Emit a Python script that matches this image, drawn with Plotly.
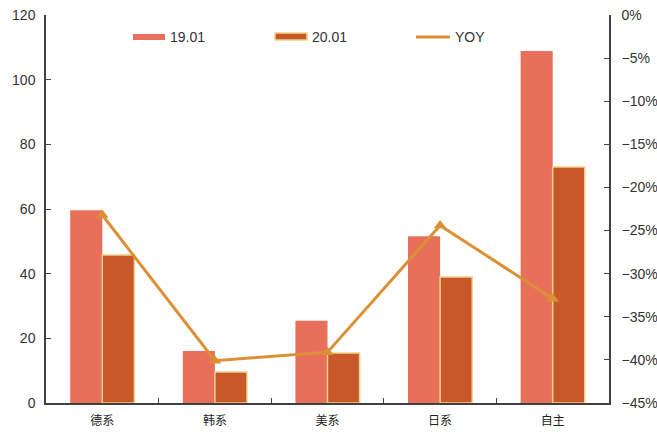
import plotly.graph_objects as go

categories = ["德系", "韩系", "美系", "日系", "自主"]
sales_1901 = [59.6, 16.1, 25.4, 51.6, 108.9]
sales_2001 = [45.8, 9.6, 15.5, 39.0, 73.0]
yoy = [-0.232, -0.401, -0.391, -0.244, -0.329]

left_ticks = [0, 20, 40, 60, 80, 100, 120]
right_ticks = [0, -0.05, -0.10, -0.15, -0.20, -0.25, -0.30, -0.35, -0.40, -0.45]

c1 = "#E8705A"
c2 = "#C8582A"
c2_edge = "#EFD28A"
cl = "#DD8F35"
axis_col = "#404040"
font_col = "#333333"

fig = go.Figure()
fig.add_trace(go.Bar(x=categories, y=sales_1901, name="19.01", marker=dict(color=c1, line=dict(width=0)), showlegend=False))
fig.add_trace(go.Bar(x=categories, y=sales_2001, name="20.01", marker=dict(color=c2, line=dict(color=c2_edge, width=1.5)), showlegend=False))
fig.add_trace(go.Scatter(x=categories, y=yoy, name="YOY", yaxis="y2", mode="lines+markers",
                         line=dict(color=cl, width=3), marker=dict(symbol="triangle-up", size=11, color=cl),
                         showlegend=False))

def px_x(x):
    return (x - 46) / (609 - 46)
def px_y(y):
    return 1 - (y - 15) / (403 - 15)

shapes = [
    dict(type="rect", xref="paper", yref="paper", x0=px_x(133), x1=px_x(165), y0=px_y(40), y1=px_y(34),
         fillcolor=c1, line=dict(width=0)),
    dict(type="rect", xref="paper", yref="paper", x0=px_x(275), x1=px_x(307), y0=px_y(40), y1=px_y(33),
         fillcolor=c2, line=dict(color=c2_edge, width=1.5)),
    dict(type="line", xref="paper", yref="paper", x0=px_x(416), x1=px_x(450), y0=px_y(37), y1=px_y(37),
         line=dict(color=cl, width=3)),
]
lf = dict(size=14, color=font_col, family="Liberation Sans, Arial")
annotations = [
    dict(xref="paper", yref="paper", x=px_x(168), y=px_y(37), text="19.01", showarrow=False, xanchor="left", yanchor="middle", font=lf),
    dict(xref="paper", yref="paper", x=px_x(310), y=px_y(37), text="20.01", showarrow=False, xanchor="left", yanchor="middle", font=lf),
    dict(xref="paper", yref="paper", x=px_x(453), y=px_y(37), text="YOY", showarrow=False, xanchor="left", yanchor="middle", font=lf),
]

fig.update_layout(
    width=657, height=434,
    margin=dict(l=46, r=48, t=15, b=31, autoexpand=False),
    paper_bgcolor="white", plot_bgcolor="white",
    barmode="group", bargap=0.43, bargroupgap=0,
    font=dict(family="Liberation Sans, Arial", size=14, color=font_col),
    xaxis=dict(showline=True, linecolor=axis_col, linewidth=1.5, ticks="inside", ticklen=5, tickcolor=axis_col,
               tickson="boundaries", showgrid=False, ticklabelstandoff=6, automargin=False,
               tickfont=dict(family="Noto Sans CJK SC", size=12, color="#222222")),
    yaxis=dict(range=[0, 120], tickvals=left_ticks, showline=True, linecolor=axis_col, linewidth=1.5,
               ticks="inside", ticklen=5, tickcolor=axis_col, showgrid=False, zeroline=False, automargin=False,
               ticklabelstandoff=6, tickfont=dict(size=14, color=font_col)),
    yaxis2=dict(range=[-0.45, 0], tickvals=right_ticks, tickformat=".0%", overlaying="y", side="right",
                showline=True, linecolor=axis_col, linewidth=1.5, ticks="inside", ticklen=5, tickcolor=axis_col,
                showgrid=False, zeroline=False, automargin=False, ticklabelstandoff=8,
                tickfont=dict(size=14, color=font_col)),
    shapes=shapes, annotations=annotations,
)

fig.write_html("out.html")
